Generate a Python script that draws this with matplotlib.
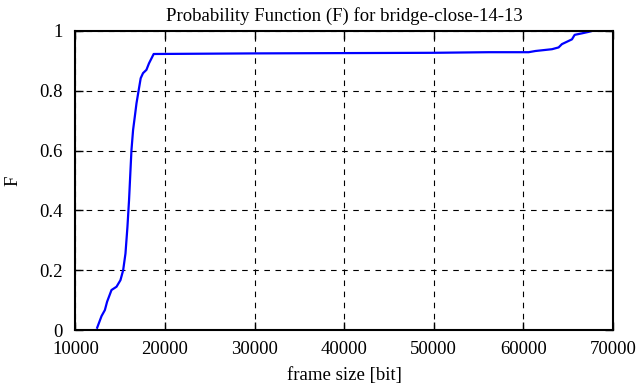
import matplotlib.pyplot as plt
import numpy as np

plt.rcParams['font.family'] = ['Liberation Serif', 'DejaVu Serif']

# curve (frame size in bit, F)
frame_size = [12430, 12920, 13290, 13540, 14030, 14590, 15030, 15330, 15590,
              15810, 15990, 16150, 16260, 16440, 16630, 16820, 17070, 17290,
              17550, 17930, 18220, 18490, 18740, 30000, 40000, 50000, 56160,
              60610, 61360, 63210, 63950, 64320, 64880, 65440, 65740, 66550,
              67300, 67670]
F = [0.008, 0.047, 0.067, 0.095, 0.134, 0.145, 0.167, 0.200, 0.256,
     0.345, 0.435, 0.535, 0.602, 0.669, 0.713, 0.758, 0.803, 0.842,
     0.859, 0.870, 0.892, 0.908, 0.923, 0.925, 0.926, 0.927, 0.929,
     0.929, 0.933, 0.939, 0.945, 0.956, 0.964, 0.972, 0.987, 0.992,
     0.997, 1.0]

xticks = [10000, 20000, 30000, 40000, 50000, 60000, 70000]
yticks = [0, 0.2, 0.4, 0.6, 0.8, 1]
yticklabels = ['0', '0.2', '0.4', '0.6', '0.8', '1']

fig = plt.figure(figsize=(6.39, 3.87), dpi=100)
ax = fig.add_axes([0.118, 0.147, 0.841, 0.773])

ax.plot(frame_size, F, color='#0000ff', lw=1.6)

ax.set_xlim(10000, 70000)
ax.set_ylim(0, 1)
ax.set_xticks(xticks)
ax.set_yticks(yticks)
ax.set_yticklabels(yticklabels)
ax.grid(True, color='black', linestyle=(0, (5, 5)), linewidth=0.8)
ax.tick_params(direction='in', length=6, width=1, top=True, right=True,
               labelsize=13.5)
ax.tick_params(axis='x', pad=8)
ax.tick_params(axis='y', pad=9)
for s in ax.spines.values():
    s.set_linewidth(1.5)

ax.set_title('Probability Function (F) for bridge-close-14-13', fontsize=13.5, pad=7)
ax.set_xlabel('frame size [bit]', fontsize=13.5, labelpad=6)
ax.set_ylabel('F', fontsize=13.5, labelpad=13)

fig.savefig('out.png', dpi=100)
